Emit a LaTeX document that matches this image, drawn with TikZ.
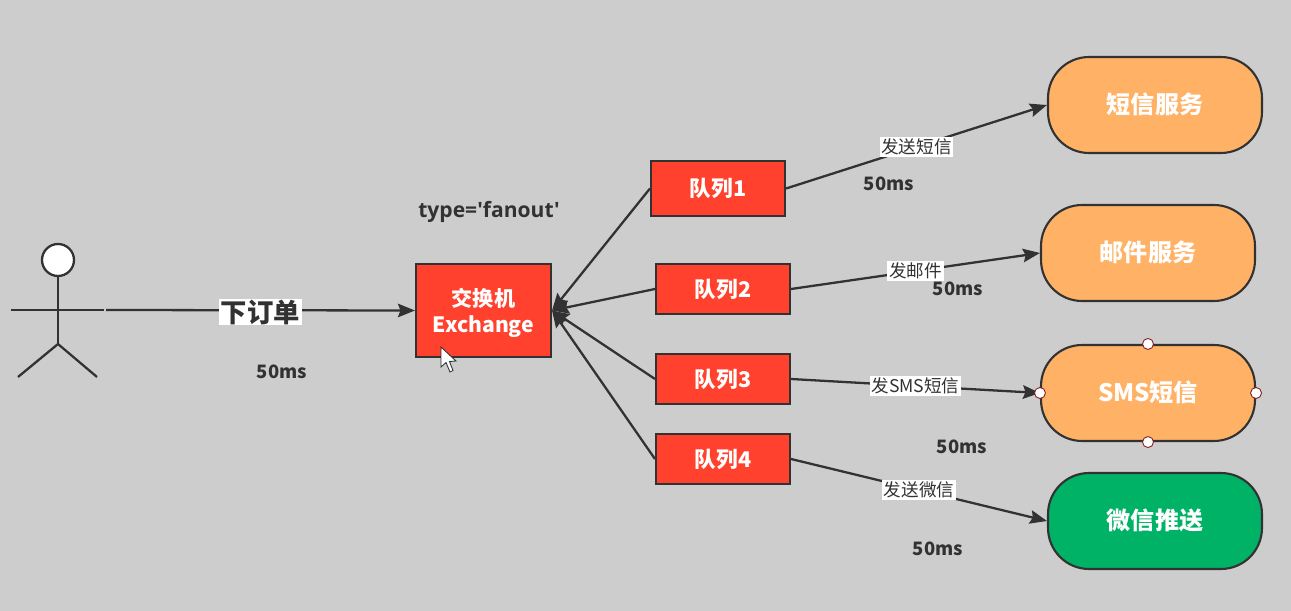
\documentclass[tikz,border=0pt]{standalone}
\usepackage{fontspec}
\setmainfont{Noto Sans CJK SC}
\newfontfamily\latinfont{Open Sans}
\usetikzlibrary{arrows.meta,positioning,calc}
\definecolor{bggray}{RGB}{205,205,205}
\definecolor{linedark}{RGB}{50,50,50}
\definecolor{boxred}{RGB}{255,65,45}
\definecolor{svcorange}{RGB}{255,178,102}
\definecolor{svcgreen}{RGB}{0,178,102}
\tikzset{
  flowarr/.style={-{Stealth[length=3.4mm,width=2.7mm,inset=0.5mm]}, linedark, line width=1.3pt},
  actorline/.style={linedark, line width=1.3pt},
  queuebox/.style={draw=linedark, fill=boxred, line width=1.2pt, text=white, font=\bfseries\fontsize{12.3}{14}\selectfont,
              minimum width=2.68cm, minimum height=1cm, inner sep=0pt, text height=0.94em, text depth=0pt},
  svc/.style={draw=linedark, line width=1.2pt, text=white, font=\bfseries\fontsize{13.7}{16}\selectfont,
              minimum width=4.28cm, minimum height=1.92cm, rounded corners=0.82cm, inner sep=0pt,
              text height=0.94em, text depth=0pt},
  msglabel/.style={fill=white, text=linedark, font=\fontsize{10}{11}\selectfont, inner xsep=1pt, inner ysep=1pt},
  timelabel/.style={text=linedark, font=\bfseries\fontsize{10.5}{12}\selectfont},
  handle/.style={circle, draw=linedark!60!red, fill=white, line width=0.5pt, minimum size=0.22cm, inner sep=0pt},
}
\begin{document}
\begin{tikzpicture}[x=0.02cm,y=-0.02cm]
  \useasboundingbox[fill=bggray] (0,0) rectangle (1291,611);
  % actor
  \node[circle, draw=linedark, fill=white, line width=1.3pt, minimum width=0.64cm, inner sep=0pt] (head) at (58,260) {};
  \coordinate (hip) at (58,344);
  \coordinate (hand) at (106,310);
  \draw[actorline] (head.south) -- (hip);
  \draw[actorline] (11,310) -- (104,310);
  \draw[actorline] (18,377) -- (hip) -- (97,377);
  % exchange and queues
  \node[queuebox, minimum width=2.7cm, minimum height=1.86cm, align=center, text height=, text depth=,
        font=\bfseries\fontsize{12}{14.8}\selectfont] (ex) at (483.5,310.5) {\rule{0pt}{1.1em}交换机\\Exchange};
  \node[queuebox, minimum height=1.1cm] (q1) at (718,188.5) {队列1};
  \node[queuebox] (q2) at (723,289) {队列2};
  \node[queuebox] (q3) at (723,379) {队列3};
  \node[queuebox] (q4) at (723,459) {队列4};
  % services
  \node[svc, fill=svcorange] (s1) at (1155,105) {短信服务};
  \node[svc, fill=svcorange] (s2) at (1148,253) {邮件服务};
  \node[svc, fill=svcorange] (s3) at (1148,393) {SMS短信};
  \node[svc, fill=svcgreen] (s4) at (1155,521) {微信推送};
  % connectors
  \draw[flowarr] (hand) -- node[pos=0.5, fill=white, text=linedark, font=\bfseries\fontsize{15}{17}\selectfont, inner xsep=1pt, inner ysep=0.5pt, yshift=-1pt] (order) {下订单} (ex.west);
  \foreach \q in {q1,q2,q3,q4}
    \draw[flowarr] (\q.west) -- (ex.east);
  \draw[flowarr] (q1.east) -- node[msglabel, pos=0.5] (m1) {发送短信} (s1.west);
  \draw[flowarr] (q2.east) -- node[msglabel, pos=0.5] (m2) {发邮件} (s2.west);
  \draw[flowarr] (q3.east) -- node[msglabel, pos=0.5] (m3) {发SMS短信} (s3.west);
  \draw[flowarr] (q4.east) -- node[msglabel, pos=0.5] (m4) {发送微信} (s4.west);
  % selection handles
  \foreach \a in {north,south,east,west}
    \node[handle] at (s3.\a) {};
  % texts
  \node[text=linedark, font=\latinfont\bfseries\fontsize{12}{14}\selectfont] (type) at (489,212) {type=\char39 fanout\char39};
  \node[timelabel] (t0) at (282,372) {50ms};
  \node[timelabel] (t1) at (889,184) {50ms};
  \node[timelabel] (t2) at (958,289) {50ms};
  \node[timelabel] (t3) at (962,447) {50ms};
  \node[timelabel] (t4) at (938,549) {50ms};
  % mouse pointer
  \draw[fill=white, draw=linedark, line width=0.5pt] (441,347) -- (441,367) -- (446,362.5) -- (450,372) -- (453,370.5) -- (449.5,361.5) -- (456,361) -- cycle;
\end{tikzpicture}
\end{document}
